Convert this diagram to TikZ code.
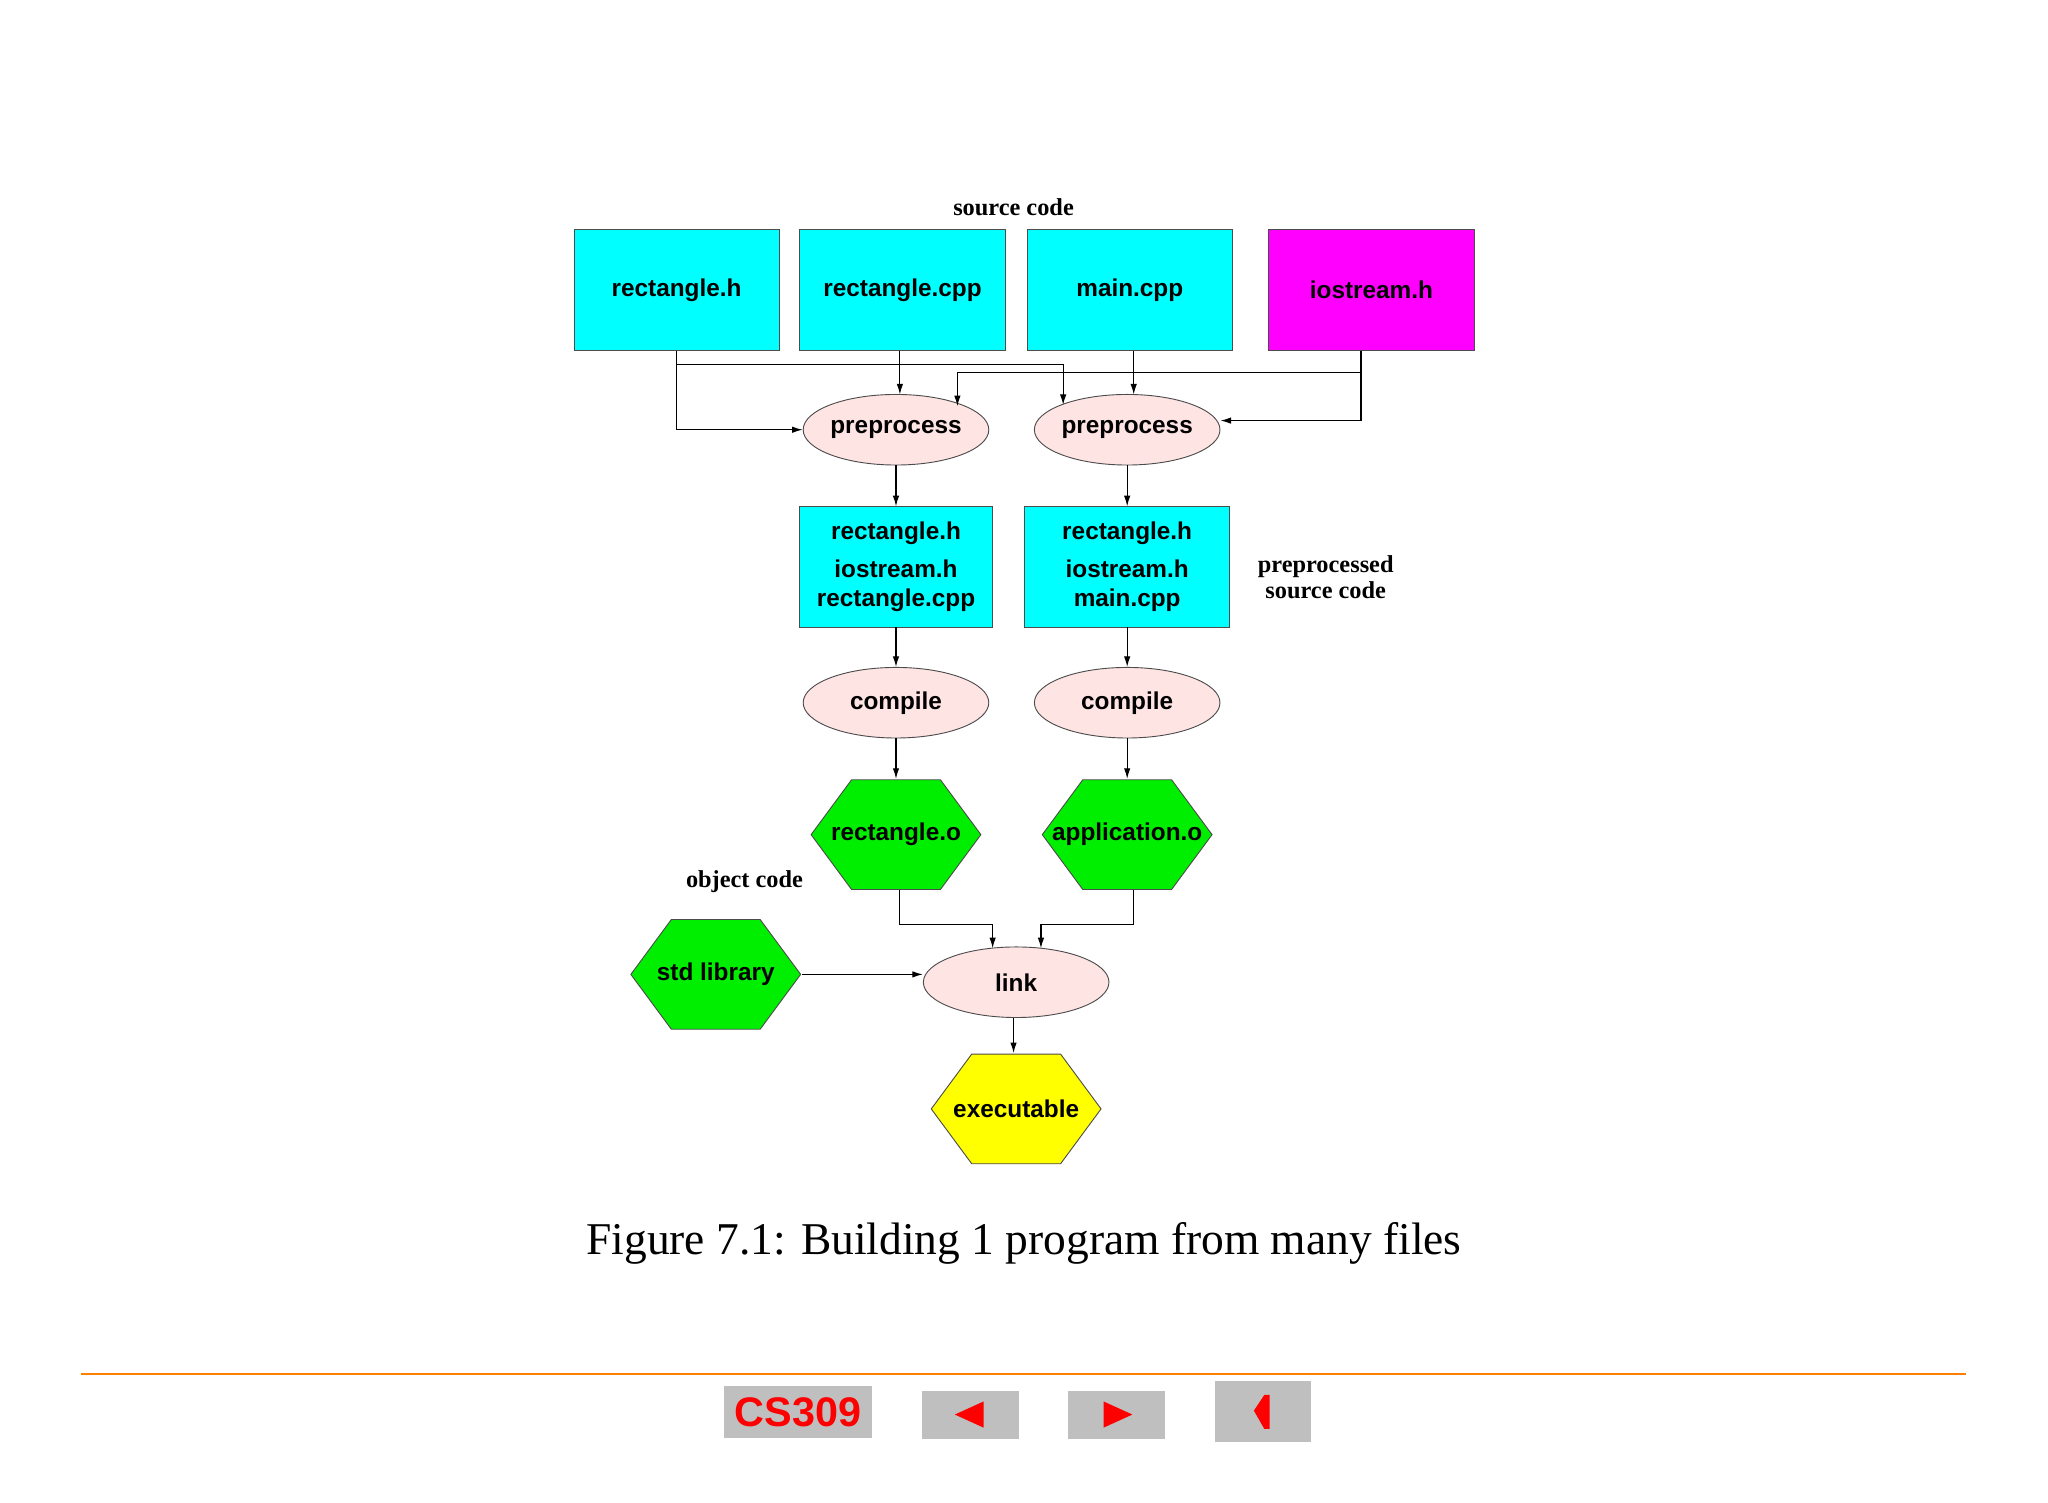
\documentclass[tikz,border=0pt]{standalone}
\usepackage{fontspec}
\setmainfont{Liberation Serif}
\newfontfamily\lsans{Liberation Sans}
\usetikzlibrary{arrows.meta,shapes.geometric}
\definecolor{cy}{RGB}{0,255,255}
\definecolor{mg}{RGB}{255,0,255}
\definecolor{yl}{RGB}{255,255,0}
\definecolor{gr}{RGB}{0,238,0}
\definecolor{pk}{RGB}{255,228,228}
\begin{document}
\begin{tikzpicture}[x=0.01cm,y=-0.01cm,
  lbl/.style={font=\lsans\bfseries\fontsize{5.3}{6.3}\selectfont,align=center},
  box/.style={draw=black!70,line width=0.2pt,lbl,minimum width=1.57cm,minimum height=0.92cm,inner sep=0pt},
  ell/.style={ellipse,draw=black!70,line width=0.2pt,fill=pk,lbl,minimum width=1.42cm,minimum height=0.54cm,inner sep=0pt},
  hexn/.style={lbl,minimum width=1.3cm,minimum height=0.84cm,inner sep=0pt},
  note/.style={font=\bfseries\fontsize{5.3}{5.8}\selectfont,align=center},
  con/.style={line width=0.25pt,-{Latex[length=2.3pt,width=1.4pt]}}]
\useasboundingbox (0,0) rectangle (1568,1150);
\fill[white] (0,0) rectangle (1568,1150);
\def\hexg#1#2#3{\fill[#3,draw=black!70,line width=0.2pt] (#1-65,#2) -- (#1-34,#2-42) -- (#1+34,#2-42) -- (#1+65,#2) -- (#1+34,#2+42) -- (#1-34,#2+42) -- cycle;}
% source boxes
\node[box,fill=cy] (rh) at (518,222) {rectangle.h};
\node[box,fill=cy] (rc) at (691,222) {rectangle.cpp};
\node[box,fill=cy] (mc) at (865,222) {main.cpp};
\node[box,fill=mg] (io) at (1050,222) {iostream.h};
\node[note] (sc) at (776,159) {source code};
% preprocess
\node[ell] (p1) at (686,329) {preprocess};
\node[ell] (p2) at (863,329) {preprocess};
% middle boxes
\node[box,fill=cy,minimum width=1.47cm] (m1) at (686,434) {rectangle.h\\[2pt]iostream.h\\rectangle.cpp};
\node[box,fill=cy] (m2) at (863,434) {rectangle.h\\[2pt]iostream.h\\main.cpp};
\node[note] (ps) at (1015,442) {preprocessed\\source code};
% compile
\node[ell] (c1) at (686,538) {compile};
\node[ell] (c2) at (863,538) {compile};
% hexagons
\hexg{686}{639}{gr}
\hexg{863}{639}{gr}
\hexg{548}{746}{gr}
\hexg{778}{849}{yl}
\node[hexn] (ro) at (686,639) {rectangle.o};
\node[hexn] (ao) at (863,639) {application.o};
\node[hexn] (sl) at (548,746) {std library};
\node[hexn] (ex) at (778,849) {executable};
\node[note] (oc) at (570,675) {object code};
\node[ell] (lk) at (778,752) {link};
% connectors
\draw[con] (rh.south) |- (p1.west);
\draw[con] (rh.south) ++(0,11) -| (814,310);
\draw[con] (rc.south -| 689,0) -- (689,302);
\draw[con] (mc.south -| 868,0) -- (868,302);
\draw[con] (io.south -| 1042,0) |- (p2.east |- 0,322);
\draw[con] (1042,285) -| (733,311);
\draw[con] (p1.south) -- (m1.north);
\draw[con] (p2.south) -- (m2.north);
\draw[con] (m1.south) -- (c1.north);
\draw[con] (m2.south) -- (c2.north);
\draw[con] (c1.south) -- (ro.north);
\draw[con] (c2.south) -- (ao.north);
\draw[con] (ro.south -| 689,0) |- (760,708) -- (760,726);
\draw[con] (ao.south -| 868,0) |- (797,708) -- (797,726);
\draw[con] (sl.east) -- (lk.west |- 0,746);
\draw[con] (lk.south -| 776,0) -- (ex.north -| 776,0);
% caption
\node[font=\fontsize{9.9}{12}\selectfont] (cap) at (784,952) {Figure 7.1: Building 1 program from many files};
% footer
\draw[orange,line width=0.4pt] (62,1052) -- (1505,1052);
\fill[black!25] (554,1061) rectangle (668,1101);
\node[font=\lsans\bfseries\fontsize{9}{10}\selectfont,text=red] (cs) at (611,1081) {CS309};
\fill[black!25] (706,1065) rectangle (780,1102);
\fill[red] (731,1083) -- (753,1073) -- (753,1093) -- cycle;
\fill[black!25] (818,1065) rectangle (892,1102);
\fill[red] (867,1083) -- (845,1073) -- (845,1093) -- cycle;
\fill[black!25] (930,1057) rectangle (1004,1104);
\fill[red] (960,1080) -- (968,1068) -- (972,1068) -- (972,1094) -- (968,1094) -- cycle;
\end{tikzpicture}
\end{document}
